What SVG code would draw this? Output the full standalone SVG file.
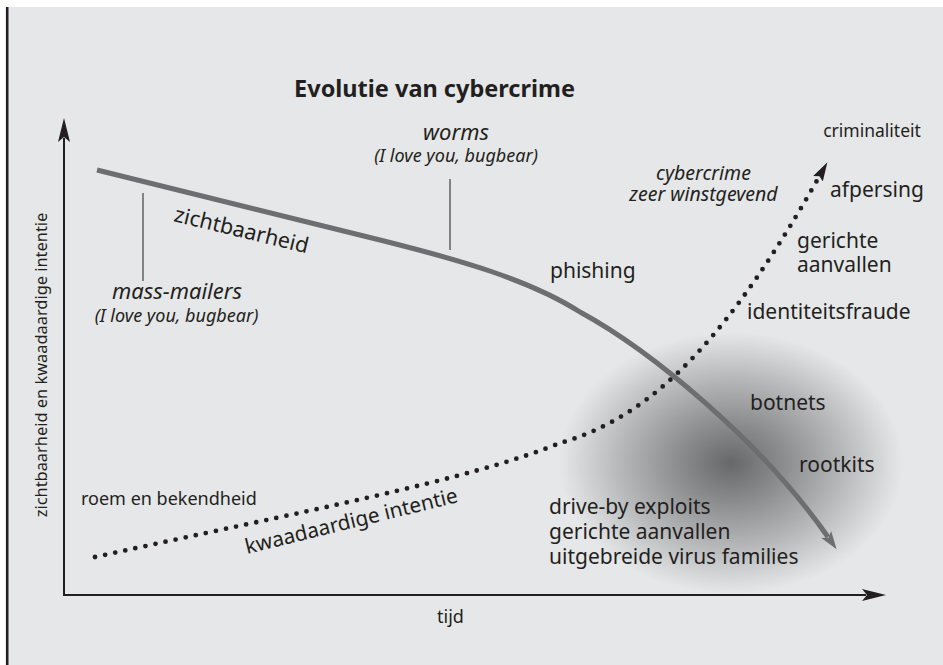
<svg xmlns="http://www.w3.org/2000/svg" width="943" height="665" viewBox="0 0 943 665">
<style>
text{font-family:"Noto Sans","Open Sans","Liberation Sans",sans-serif;fill:#231f20}
.lb{font-size:21px}
.it{font-style:italic}
.sub{font-size:18px;font-style:italic}
.axis{stroke:#231f20;stroke-width:2;fill:none}
</style>
<defs>
<radialGradient id="glow" cx="0.5" cy="0.5" r="0.5">
<stop offset="0" stop-color="#67686a"/>
<stop offset="0.3" stop-color="#8b8c8e"/>
<stop offset="0.65" stop-color="#b7b8ba"/>
<stop offset="0.9" stop-color="#d9dadb"/>
<stop offset="1" stop-color="#e6e7e8"/>
</radialGradient>
<marker id="ahBlack" markerUnits="userSpaceOnUse" markerWidth="26" markerHeight="14" refX="4" refY="7" orient="auto">
<path d="M0,1 L24,7 L0,13 L5,7 z" fill="#231f20"/>
</marker>
<marker id="ahDot" markerUnits="userSpaceOnUse" markerWidth="22" markerHeight="14" refX="2" refY="6" orient="auto">
<path d="M0,0.5 L19,6 L0,11.5 L3,6 z" fill="#231f20"/>
</marker>
<marker id="ahGray" markerUnits="userSpaceOnUse" markerWidth="22" markerHeight="14" refX="3" refY="6.5" orient="auto">
<path d="M0,0.5 L18,6.5 L0,12.5 L4,6.5 z" fill="#6d6e71"/>
</marker>
</defs>
<rect x="0" y="0" width="943" height="665" fill="#ffffff"/>
<rect x="7" y="7" width="936" height="658" fill="#e6e7e8"/>
<line x1="7.2" y1="7" x2="7.2" y2="665" stroke="#231f20" stroke-width="2.6"/>
<ellipse id="glow-area" cx="731" cy="463" rx="172" ry="131" fill="url(#glow)"/>

<g id="connectors">
<path id="y-axis" class="axis" d="M64,596 L64,138" marker-end="url(#ahBlack)"/>
<path id="x-axis" class="axis" d="M63,595 L866,595" marker-end="url(#ahBlack)"/>
<path id="zichtbaarheid-curve" d="M97,170 L380,240 C460,260 530,280 580,312 C650,350 760,440 828,537" fill="none" stroke="#6d6e71" stroke-width="5" marker-end="url(#ahGray)"/>
<path id="intentie-curve" d="M95,557 C300,512 470,480 560,443 C660,415 735,325 819,177" fill="none" stroke="#231f20" stroke-width="4.8" stroke-linecap="round" stroke-dasharray="0 10.3" marker-end="url(#ahDot)"/>
<line id="worms-leader" x1="450" y1="179" x2="450" y2="250" stroke="#231f20" stroke-width="1"/>
<line id="mailers-leader" x1="143" y1="193" x2="143" y2="281" stroke="#231f20" stroke-width="1"/>
</g>

<g id="title"><text x="434.5" y="97" text-anchor="middle" font-size="23.5" font-weight="bold">Evolutie van cybercrime</text></g>
<g id="y-label"><text transform="translate(47,365) rotate(-90)" text-anchor="middle" font-size="16.4">zichtbaarheid en kwaadaardige intentie</text></g>
<g id="x-label"><text x="450.5" y="623" text-anchor="middle" font-size="18">tijd</text></g>
<g id="criminaliteit"><text x="872" y="137" text-anchor="middle" font-size="17.5">criminaliteit</text></g>
<g id="cybercrime"><text x="703.5" y="180" text-anchor="middle" class="it" font-size="19.5">cybercrime</text><text x="703.5" y="201" text-anchor="middle" class="it" font-size="19.5">zeer winstgevend</text></g>
<g id="afpersing"><text x="830" y="197" class="lb">afpersing</text></g>
<g id="gerichte"><text x="797" y="248" class="lb">gerichte</text><text x="797" y="272" class="lb">aanvallen</text></g>
<g id="identiteitsfraude"><text x="747" y="319" class="lb">identiteitsfraude</text></g>
<g id="phishing"><text x="550" y="278" class="lb">phishing</text></g>
<g id="worms"><text x="456" y="140" text-anchor="middle" class="it" font-size="22">worms</text><text x="456" y="162" text-anchor="middle" class="sub">(I love you, bugbear)</text></g>
<g id="mass-mailers"><text x="177" y="299" text-anchor="middle" class="it" font-size="22">mass-mailers</text><text x="176.5" y="322" text-anchor="middle" class="sub">(I love you, bugbear)</text></g>
<g id="zichtbaarheid"><text x="173" y="221" transform="rotate(13.6,173,221)" font-size="21.5">zichtbaarheid</text></g>
<g id="roem"><text x="81" y="505" font-size="18">roem en bekendheid</text></g>
<g id="kwaadaardige"><text x="247" y="554" transform="rotate(-13.8,247,554)" font-size="20.8">kwaadaardige intentie</text></g>
<g id="botnets"><text x="750" y="410" class="lb">botnets</text></g>
<g id="rootkits"><text x="799" y="472" class="lb">rootkits</text></g>
<g id="drive-by"><text x="549" y="514" class="lb">drive-by exploits</text><text x="549" y="539" class="lb">gerichte aanvallen</text><text x="549" y="564" class="lb">uitgebreide virus families</text></g>
</svg>
